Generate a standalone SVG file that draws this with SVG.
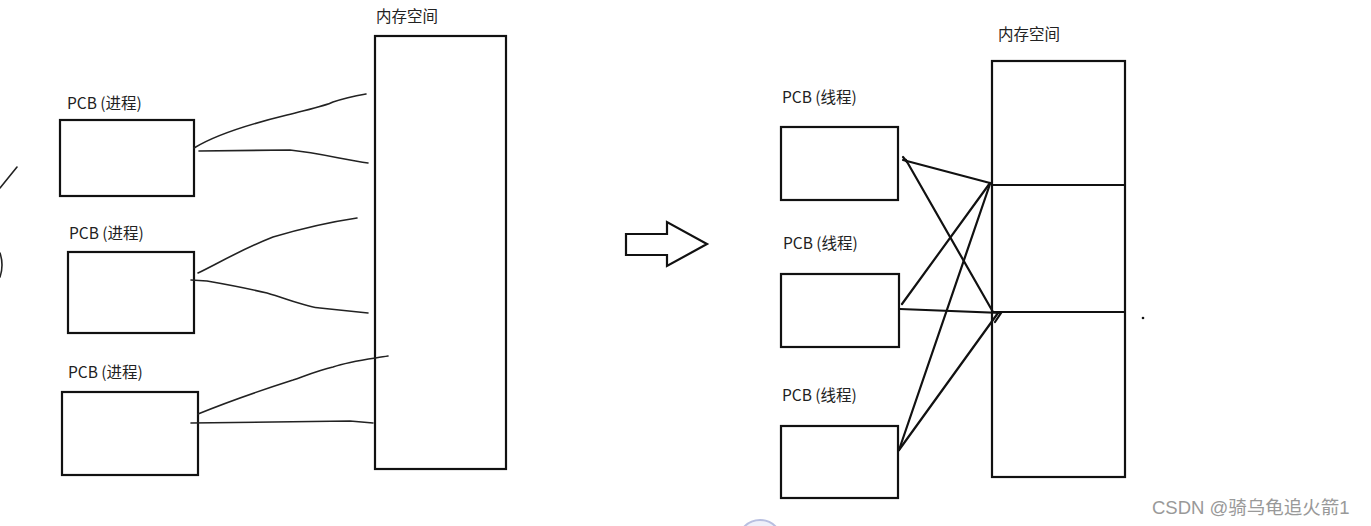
<svg xmlns="http://www.w3.org/2000/svg" width="1371" height="526" viewBox="0 0 1371 526">
<style>
.box{fill:#fff;stroke:#111;stroke-width:2.2}
.lbl{font-family:"Noto Sans CJK SC","Noto Sans",sans-serif;font-size:15.5px;fill:#222}
.hand{fill:none;stroke:#222;stroke-width:1.6;stroke-linecap:round;stroke-linejoin:round}
.link{fill:none;stroke:#111;stroke-width:2.2;stroke-linecap:round}
.wm{font-family:"Liberation Sans","Noto Sans CJK SC",sans-serif;font-size:18.5px;fill:#999}
</style>
<rect width="1371" height="526" fill="#fff"/>
<!-- left edge fragments -->
<path class="hand" d="M0,188 L17,167"/>
<path class="hand" d="M0,253 Q4,265 0,277" stroke-width="2.2"/>

<!-- left: process view -->
<g id="mem-left">
<text class="lbl" x="376" y="22">内存空间</text>
<rect class="box" x="375" y="36" width="131" height="433"/>
</g>
<g id="pcb-p1">
<text class="lbl" x="67" y="109">PCB (进程)</text>
<rect class="box" x="60" y="120" width="134" height="76"/>
</g>
<g id="pcb-p2">
<text class="lbl" x="69" y="239">PCB (进程)</text>
<rect class="box" x="68" y="252" width="126" height="81"/>
</g>
<g id="pcb-p3">
<text class="lbl" x="68" y="378">PCB (进程)</text>
<rect class="box" x="62" y="392" width="136" height="83"/>
</g>

<!-- right: thread view -->
<g id="arrow">
<path d="M626,234 L667,234 L667,222 L707,244 L667,266 L667,255 L626,255 Z" fill="#fff" stroke="#111" stroke-width="2.2"/>
</g>
<g id="mem-right">
<text class="lbl" x="998" y="40">内存空间</text>
<rect class="box" x="992" y="61" width="133" height="416"/>
<line x1="992" y1="185" x2="1125" y2="185" stroke="#111" stroke-width="2.2"/>
<line x1="992" y1="312" x2="1125" y2="312" stroke="#111" stroke-width="2.2"/>
</g>
<g id="pcb-t1">
<text class="lbl" x="782" y="103">PCB (线程)</text>
<rect class="box" x="781" y="127" width="117" height="73"/>
</g>
<g id="pcb-t2">
<text class="lbl" x="783" y="249">PCB (线程)</text>
<rect class="box" x="781" y="274" width="118" height="73"/>
</g>
<g id="pcb-t3">
<text class="lbl" x="782" y="401">PCB (线程)</text>
<rect class="box" x="781" y="426" width="117" height="72"/>
</g>
<circle id="dot" cx="1143" cy="318" r="1.3" fill="#111"/>

<g id="connectors">
<path class="hand" d="M194,148 C215,135 250,124 287,115 C310,109 325,106 333,102 C345,98 355,96 366,94"/>
<path class="hand" d="M199,151 L290,150 C320,153 345,160 368,163"/>
<path class="hand" d="M198,273 C215,265 240,250 273,237 C300,229 330,222 357,218"/>
<path class="hand" d="M191,280 L207,281 C230,285 250,289 267,293 C290,300 310,308 320,308 L368,313"/>
<path class="hand" d="M198,414 C215,407 240,397 293,380 C310,374 320,370 333,367 C350,361 370,359 388,356"/>
<path class="hand" d="M191,423 L350,421 L373,423"/>

<path class="link" d="M903,160 L990,183"/>
<path class="link" d="M903,157 L907,162"/>
<path class="link" d="M906,160 L993,312"/>
<path class="link" d="M902,304 L990,183"/>
<path class="link" d="M900,309 L1001,313 L995,322"/>
<path class="link" d="M899,450 L990,184"/>
<path class="link" d="M899,450 L998,313"/>
</g>

<g id="watermark">
<circle cx="760" cy="542" r="22" fill="#eef0fa" stroke="#b8bfe0" stroke-width="2"/>
<text class="wm" x="1152" y="514">CSDN @骑乌龟追火箭1</text>
</g>
</svg>
